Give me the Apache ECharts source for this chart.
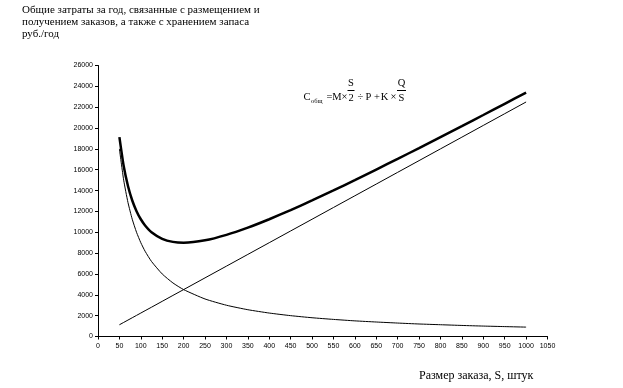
<!DOCTYPE html>
<html><head><meta charset="utf-8">
<script src="https://cdn.jsdelivr.net/npm/echarts@6/dist/echarts.min.js"></script>
<style>html,body{margin:0;padding:0;background:#fff}#c{width:623px;height:388px}</style>
</head><body><div id="c"></div>
<script>
var orderSize = [50,60,70,80,90,100,110,125,150,175,200,250,300,350,400,450,500,550,600,650,700,750,800,850,900,950,1000];
var orderingCost = [18000,15000,12860,11250,10000,9000,8180,7200,6000,5140,4500,3600,3000,2570,2250,2000,1800,1640,1500,1390,1290,1200,1130,1060,1000,950,900];
var holdingCost = [1125,1350,1575,1800,2025,2250,2475,2810,3375,3940,4500,5625,6750,7875,9000,10125,11250,12375,13500,14625,15750,16875,18000,19125,20250,21375,22500];
var totalCost = [19125,16350,14435,13050,12025,11250,10655,10010,9375,9080,9000,9225,9750,10445,11250,12125,13050,14015,15000,16015,17040,18075,19130,20185,21250,22325,23400];
var yTicks = {min:0, max:26000, interval:2000};
var xTicks = {min:0, max:1050, interval:50};

function pairs(ys){ return orderSize.map(function(s,i){return [s, ys[i]];}); }

var chart = echarts.init(document.getElementById('c'), null, {renderer:'canvas'});
var serif = '"Liberation Serif", "Times New Roman", serif';
var tickFont = {fontFamily:'"Liberation Sans", Arial, sans-serif', fontSize:7, color:'#000', formatter:function(v){return String(v);}};
function t(txt, x, y, size, extra){
  return Object.assign({type:'text', x:x, y:y, silent:true, style:{text:txt, font:(size||10.5)+'px '+serif, fill:'#000', textVerticalAlign:'middle', textAlign:'center'}}, extra||{});
}
chart.setOption({
  animation:false,
  backgroundColor:'#fff',
  grid:{left:98, right:75.5, top:65.5, bottom:51.5, containLabel:false},
  xAxis:{type:'value', min:xTicks.min, max:xTicks.max, interval:xTicks.interval,
    axisLine:{show:true, lineStyle:{color:'#000', width:1}},
    axisTick:{show:true, length:3, lineStyle:{color:'#000'}},
    axisLabel:Object.assign({margin:6, showMaxLabel:true, showMinLabel:true}, tickFont),
    splitLine:{show:false}},
  yAxis:{type:'value', min:yTicks.min, max:yTicks.max, interval:yTicks.interval,
    axisLine:{show:true, lineStyle:{color:'#000', width:1}},
    axisTick:{show:true, length:3, lineStyle:{color:'#000'}},
    axisLabel:Object.assign({margin:5}, tickFont),
    splitLine:{show:false}},
  series:[
    {type:'line', data:pairs(orderingCost), symbol:'none', smooth:0.2, lineStyle:{color:'#000', width:1}},
    {type:'line', data:pairs(holdingCost), symbol:'none', lineStyle:{color:'#000', width:1}},
    {type:'line', data:pairs(totalCost), symbol:'none', smooth:0.2, lineStyle:{color:'#000', width:2.5}}
  ],
  graphic:[
    {type:'text', left:22, top:4, style:{text:'Общие затраты за год, связанные с размещением и\nполучением заказов, а также с хранением запаса\nруб./год', font:'11px '+serif, fill:'#000', lineHeight:12}},
    {type:'text', left:419, top:370, style:{text:'Размер заказа, S, штук', font:'12px '+serif, fill:'#000'}},
    t('C', 307, 97),
    {type:'text', x:311, y:101, silent:true, style:{text:'общ', font:'6.5px '+serif, fill:'#000', textVerticalAlign:'middle', textAlign:'left'}},
    t('=', 329.5, 97),
    t('M', 337, 97),
    t('×', 344.5, 97),
    t('S', 351, 83),
    {type:'line', silent:true, shape:{x1:347.5, y1:90.5, x2:354.5, y2:90.5}, style:{stroke:'#000', lineWidth:1}},
    t('2', 351, 98),
    t('÷', 360.5, 97),
    t('P', 368.5, 97),
    t('+', 377, 97),
    t('K', 384.5, 97),
    t('×', 393.5, 97),
    t('Q', 401.5, 83),
    {type:'line', silent:true, shape:{x1:397, y1:90.5, x2:406, y2:90.5}, style:{stroke:'#000', lineWidth:1}},
    t('S', 401.5, 98)
  ]
});
</script></body></html>
